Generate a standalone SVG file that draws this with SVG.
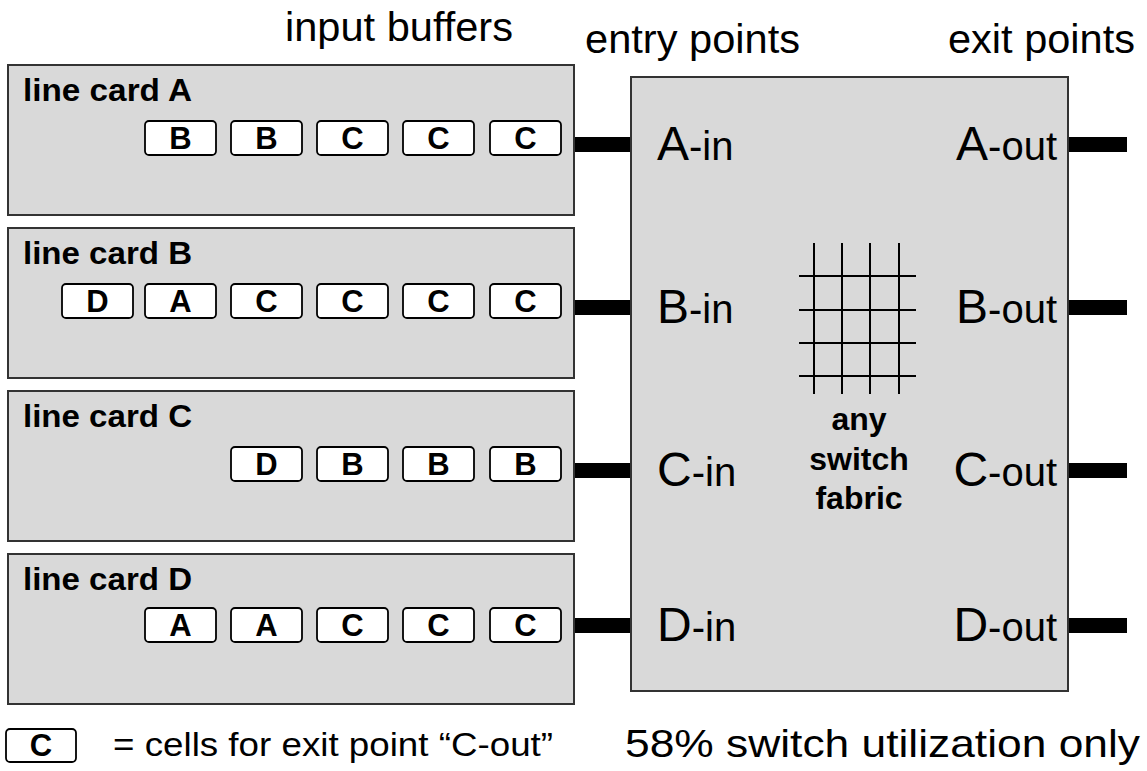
<svg xmlns="http://www.w3.org/2000/svg" width="1147" height="771" viewBox="0 0 1147 771">
  <style>
    .card { fill: #d9d9d9; stroke: #333; stroke-width: 2; }
    .cell { fill: #fff; stroke: #000; stroke-width: 1.8; }
    .cellTxt { font-family: "Liberation Sans", Arial, sans-serif; font-weight: bold; font-size: 31px; text-anchor: middle; fill: #000; }
    .title { font-family: "Liberation Sans", Arial, sans-serif; font-weight: bold; font-size: 31px; fill: #000; }
    .head { font-family: "Liberation Sans", Arial, sans-serif; font-size: 40px; fill: #000; }
    .port { font-family: "Liberation Sans", Arial, sans-serif; fill: #000; }
    .big { font-size: 48px; }
    .small { font-size: 40px; }
    .fab { font-family: "Liberation Sans", Arial, sans-serif; font-weight: bold; font-size: 32px; text-anchor: middle; fill: #000; }
    .link { fill: #000; }
    .grid line { stroke: #000; stroke-width: 2; }
    .note { font-family: "Liberation Sans", Arial, sans-serif; fill: #000; }
  </style>

  <!-- column headings -->
  <text class="head" x="285" y="41" textLength="228" lengthAdjust="spacingAndGlyphs">input buffers</text>
  <text class="head" x="585" y="53" textLength="215" lengthAdjust="spacingAndGlyphs">entry points</text>
  <text class="head" x="948" y="53" textLength="187" lengthAdjust="spacingAndGlyphs">exit points</text>

  <!-- connectors: line card to entry point, exit point to outside -->
  <g id="connectors">
    <rect class="link" x="574" y="137" width="58" height="15"/>
    <rect class="link" x="1068" y="137" width="59" height="15"/>
    <rect class="link" x="574" y="300" width="58" height="15"/>
    <rect class="link" x="1068" y="300" width="59" height="15"/>
    <rect class="link" x="574" y="463" width="58" height="15"/>
    <rect class="link" x="1068" y="463" width="59" height="15"/>
    <rect class="link" x="574" y="618" width="58" height="15"/>
    <rect class="link" x="1068" y="618" width="59" height="15"/>
  </g>

  <!-- line card A -->
  <g id="card-a">
    <rect class="card" x="8" y="65" width="566" height="150"/>
    <text class="title" x="23" y="101" textLength="169" lengthAdjust="spacingAndGlyphs">line card A</text>
    <rect class="cell" x="145" y="121" width="71" height="34" rx="4"/><text class="cellTxt" x="180.5" y="149">B</text>
    <rect class="cell" x="231" y="121" width="71" height="34" rx="4"/><text class="cellTxt" x="266.5" y="149">B</text>
    <rect class="cell" x="317" y="121" width="71" height="34" rx="4"/><text class="cellTxt" x="352.5" y="149">C</text>
    <rect class="cell" x="403" y="121" width="71" height="34" rx="4"/><text class="cellTxt" x="438.5" y="149">C</text>
    <rect class="cell" x="490" y="121" width="71" height="34" rx="4"/><text class="cellTxt" x="525.5" y="149">C</text>
  </g>

  <!-- line card B -->
  <g id="card-b">
    <rect class="card" x="8" y="228" width="566" height="150"/>
    <text class="title" x="23" y="264" textLength="169" lengthAdjust="spacingAndGlyphs">line card B</text>
    <rect class="cell" x="62" y="284" width="71" height="34" rx="4"/><text class="cellTxt" x="97.5" y="312">D</text>
    <rect class="cell" x="145" y="284" width="71" height="34" rx="4"/><text class="cellTxt" x="180.5" y="312">A</text>
    <rect class="cell" x="231" y="284" width="71" height="34" rx="4"/><text class="cellTxt" x="266.5" y="312">C</text>
    <rect class="cell" x="317" y="284" width="71" height="34" rx="4"/><text class="cellTxt" x="352.5" y="312">C</text>
    <rect class="cell" x="403" y="284" width="71" height="34" rx="4"/><text class="cellTxt" x="438.5" y="312">C</text>
    <rect class="cell" x="490" y="284" width="71" height="34" rx="4"/><text class="cellTxt" x="525.5" y="312">C</text>
  </g>

  <!-- line card C -->
  <g id="card-c">
    <rect class="card" x="8" y="391" width="566" height="150"/>
    <text class="title" x="23" y="427" textLength="169" lengthAdjust="spacingAndGlyphs">line card C</text>
    <rect class="cell" x="231" y="447" width="71" height="34" rx="4"/><text class="cellTxt" x="266.5" y="475">D</text>
    <rect class="cell" x="317" y="447" width="71" height="34" rx="4"/><text class="cellTxt" x="352.5" y="475">B</text>
    <rect class="cell" x="403" y="447" width="71" height="34" rx="4"/><text class="cellTxt" x="438.5" y="475">B</text>
    <rect class="cell" x="490" y="447" width="71" height="34" rx="4"/><text class="cellTxt" x="525.5" y="475">B</text>
  </g>

  <!-- line card D -->
  <g id="card-d">
    <rect class="card" x="8" y="554" width="566" height="150"/>
    <text class="title" x="23" y="590" textLength="169" lengthAdjust="spacingAndGlyphs">line card D</text>
    <rect class="cell" x="145" y="608" width="71" height="34" rx="4"/><text class="cellTxt" x="180.5" y="636">A</text>
    <rect class="cell" x="231" y="608" width="71" height="34" rx="4"/><text class="cellTxt" x="266.5" y="636">A</text>
    <rect class="cell" x="317" y="608" width="71" height="34" rx="4"/><text class="cellTxt" x="352.5" y="636">C</text>
    <rect class="cell" x="403" y="608" width="71" height="34" rx="4"/><text class="cellTxt" x="438.5" y="636">C</text>
    <rect class="cell" x="490" y="608" width="71" height="34" rx="4"/><text class="cellTxt" x="525.5" y="636">C</text>
  </g>

  <!-- switch fabric with entry and exit points -->
  <g id="switch">
    <rect class="card" x="631" y="77" width="437" height="614"/>
    <text class="port" x="657" y="160"><tspan class="big">A</tspan><tspan class="small">-in</tspan></text>
    <text class="port" x="657" y="323"><tspan class="big">B</tspan><tspan class="small">-in</tspan></text>
    <text class="port" x="657" y="486"><tspan class="big">C</tspan><tspan class="small">-in</tspan></text>
    <text class="port" x="657" y="641"><tspan class="big">D</tspan><tspan class="small">-in</tspan></text>
    <text class="port" x="1057" y="160" text-anchor="end"><tspan class="big">A</tspan><tspan class="small">-out</tspan></text>
    <text class="port" x="1057" y="323" text-anchor="end"><tspan class="big">B</tspan><tspan class="small">-out</tspan></text>
    <text class="port" x="1057" y="486" text-anchor="end"><tspan class="big">C</tspan><tspan class="small">-out</tspan></text>
    <text class="port" x="1057" y="641" text-anchor="end"><tspan class="big">D</tspan><tspan class="small">-out</tspan></text>
    <g class="grid">
      <line x1="814" y1="243" x2="814" y2="394"/>
      <line x1="842" y1="243" x2="842" y2="394"/>
      <line x1="870" y1="243" x2="870" y2="394"/>
      <line x1="899" y1="243" x2="899" y2="394"/>
      <line x1="799" y1="276" x2="916" y2="276"/>
      <line x1="799" y1="310" x2="916" y2="310"/>
      <line x1="799" y1="343" x2="916" y2="343"/>
      <line x1="799" y1="376" x2="916" y2="376"/>
    </g>
    <text class="fab" x="859" y="430">any</text>
    <text class="fab" x="859" y="470">switch</text>
    <text class="fab" x="859" y="509">fabric</text>
  </g>

  <!-- legend and summary -->
  <g id="legend">
    <rect class="cell" x="6" y="729" width="70" height="33" rx="4"/>
    <text class="cellTxt" x="41" y="756">C</text>
    <text class="note" x="113" y="756" font-size="34" textLength="440" lengthAdjust="spacingAndGlyphs">= cells for exit point “C-out”</text>
  </g>
  <text class="note" x="625" y="757" font-size="39" textLength="515" lengthAdjust="spacingAndGlyphs">58% switch utilization only</text>
</svg>
